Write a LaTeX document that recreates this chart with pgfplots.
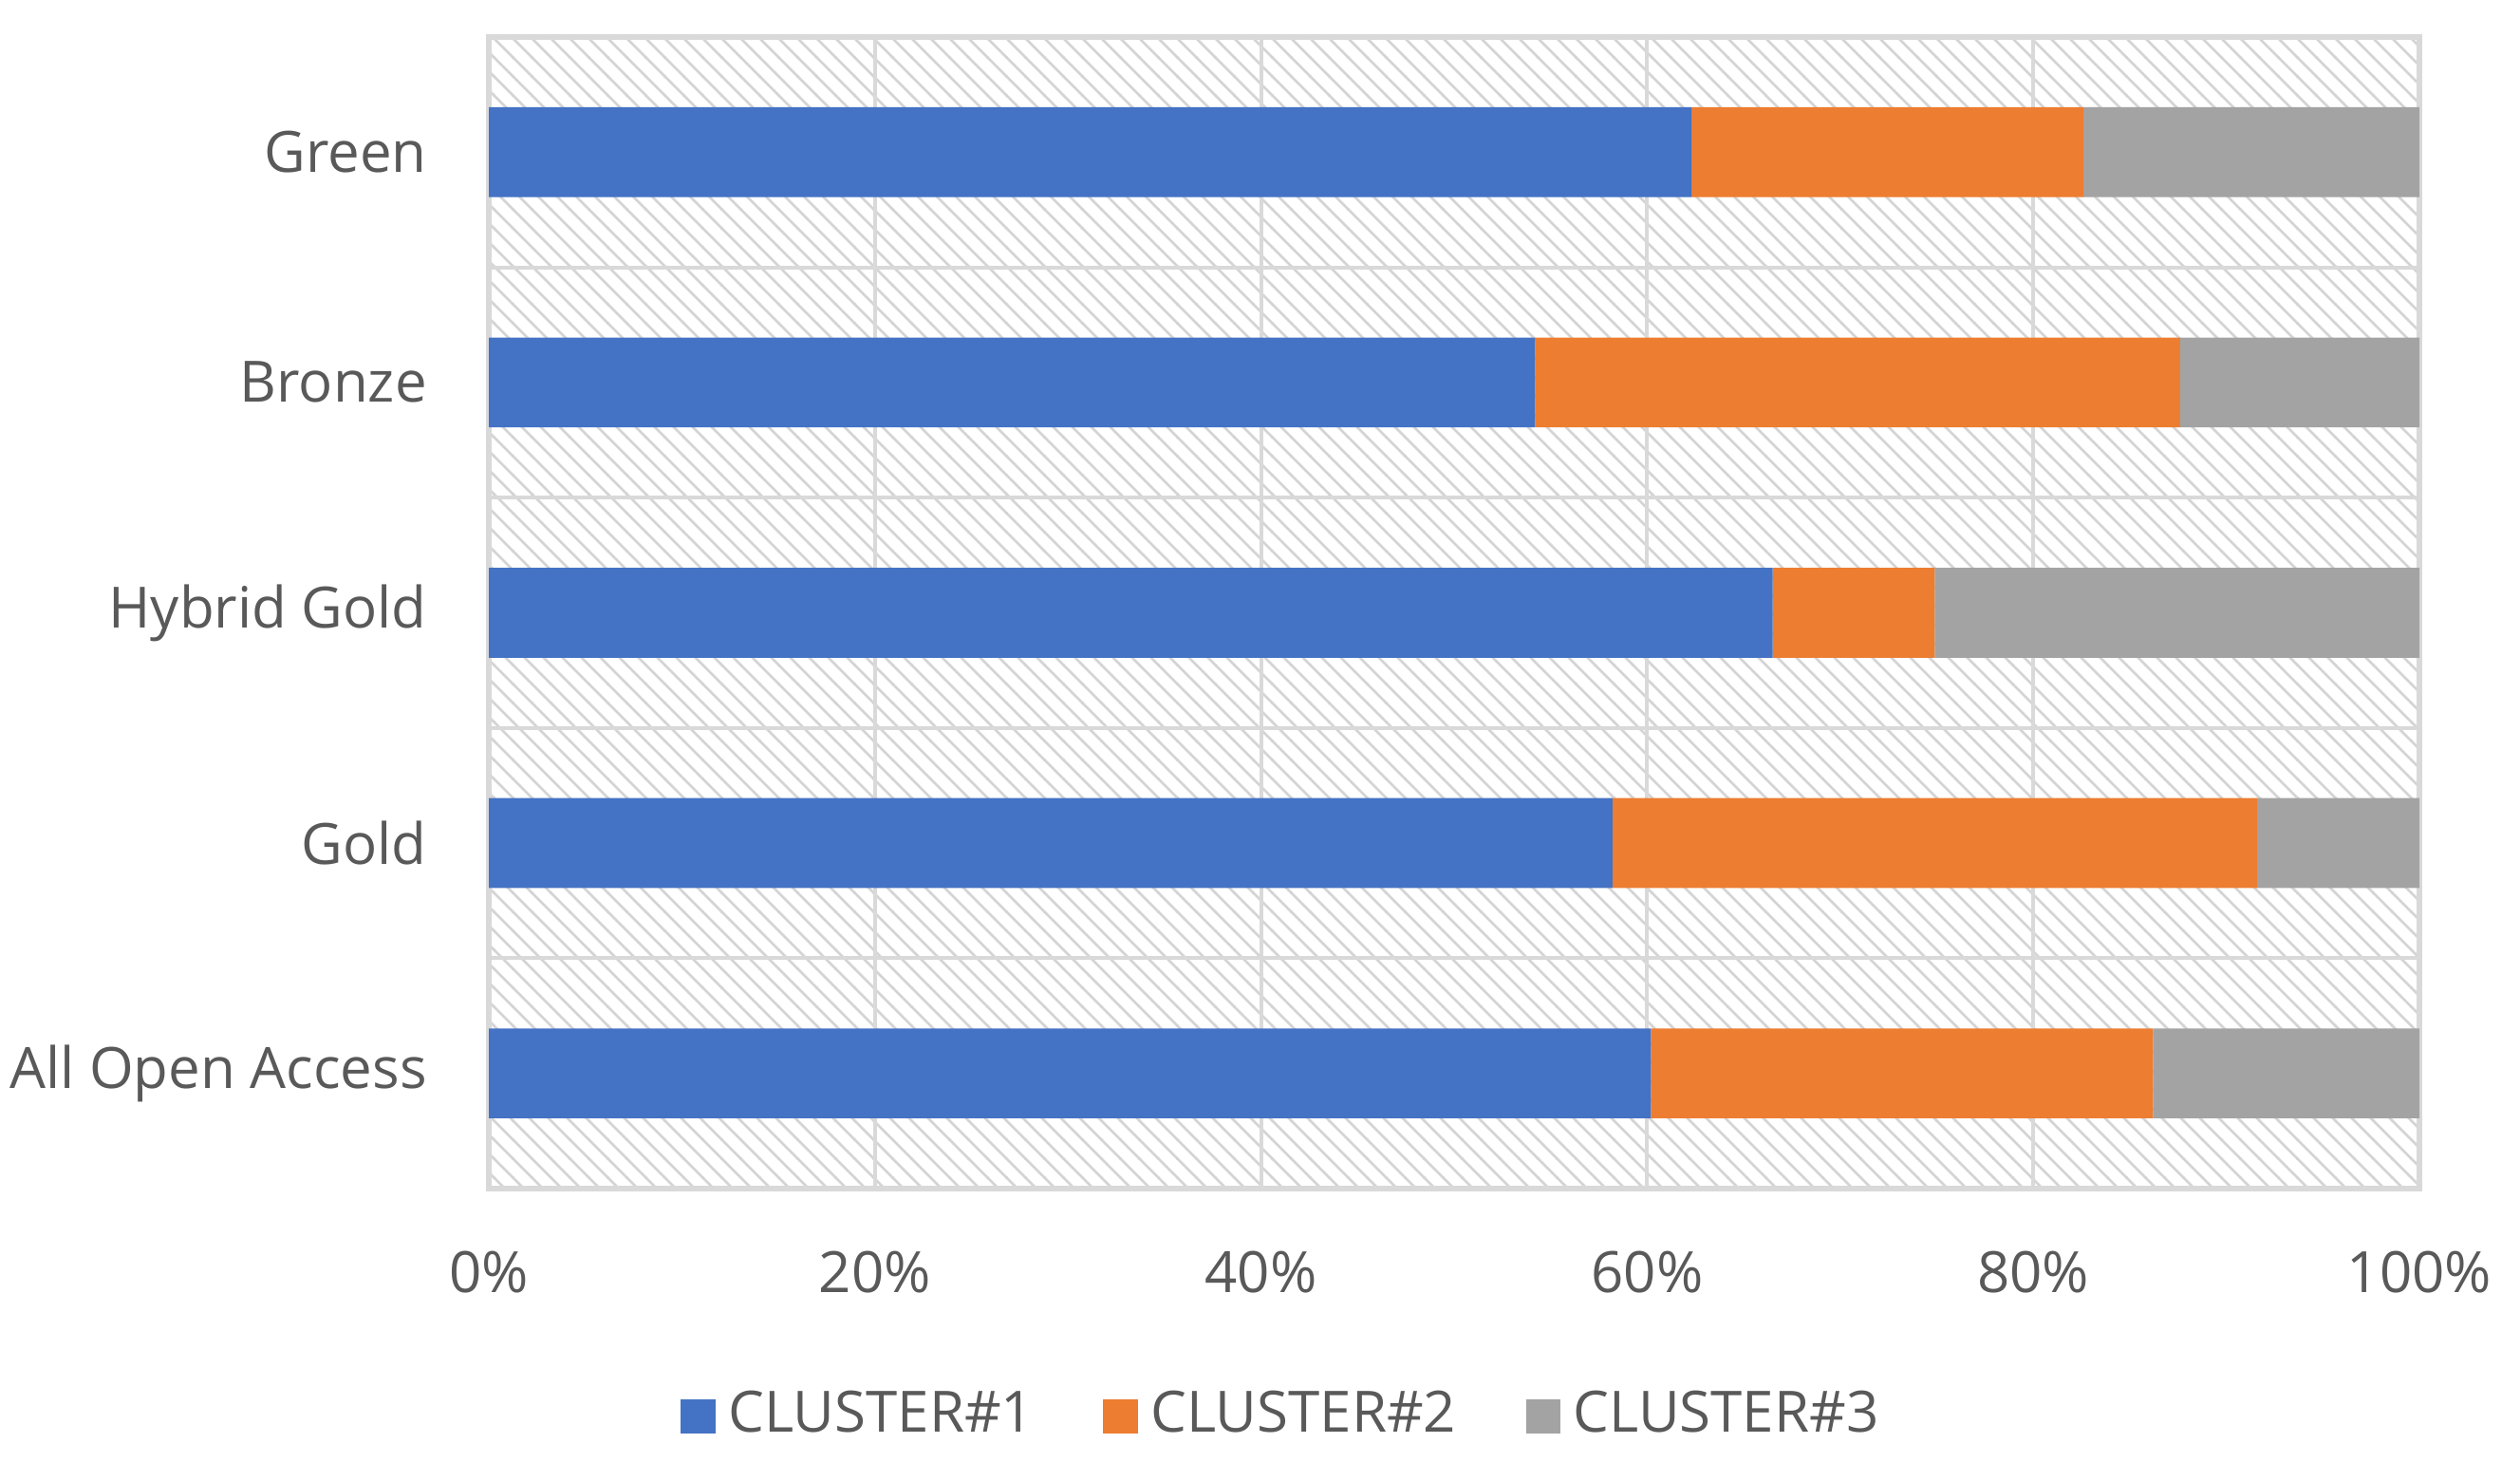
\documentclass[border=0pt]{standalone}
\usepackage{pgfplots}
\pgfplotsset{compat=1.18}
\usepackage{fontspec}
\setmainfont{Open Sans}
\usetikzlibrary{patterns}

\definecolor{cBlue}{HTML}{4472C4}
\definecolor{cOrange}{HTML}{ED7D31}
\definecolor{cGray}{HTML}{A3A3A3}
\definecolor{gridgray}{HTML}{D9D9D9}
\definecolor{txtgray}{HTML}{595959}
\definecolor{hatch}{HTML}{D4D4D4}

\pgfplotsset{
  legsq/.style={legend image code/.code={\fill[##1] (0pt,-2.75pt) rectangle (5.5pt,2.75pt);}},
}

\begin{document}
\begin{tikzpicture}
\begin{axis}[
    scale only axis,
    width=305.1pt, height=181.95pt,
    xbar stacked,
    bar width=14.2pt,
    xmin=0, xmax=100,
    ymin=-0.5, ymax=4.5,
    xtick={0,20,...,100},
    xticklabels={0\%,20\%,40\%,60\%,80\%,100\%},
    ytick={0,1,2,3,4},
    yticklabels={All Open Access,Gold,Hybrid Gold,Bronze,Green},
    minor ytick={0.5,1.5,2.5,3.5},
    xmajorgrids, yminorgrids,
    major tick length=0pt, minor tick length=0pt,
    grid style={draw=gridgray, line width=0.6pt},
    minor grid style={draw=gridgray, line width=0.6pt},
    axis line style={draw=gridgray, line width=0.8pt},
    tick label style={font=\fontsize{9.0}{11}\selectfont, text=txtgray},
    xticklabel style={yshift=-6.3pt, inner xsep=0pt},
    yticklabel style={xshift=-9.6pt, inner xsep=0pt},
    axis background/.style={pattern=north west lines, pattern color=hatch},
    legend style={at={(0.413,-0.198)}, anchor=center, legend columns=-1,
      draw=none, fill=none, font=\fontsize{9.0}{11}\selectfont, text=txtgray,
      /tikz/every even column/.append style={column sep=9pt}},
  ]
\addplot[fill=cBlue, draw=none, legsq] coordinates
  {(60.2,0) (58.2,1) (66.5,2) (54.2,3) (62.3,4)};
\addplot[fill=cOrange, draw=none, legsq] coordinates
  {(26.0,0) (33.4,1) (8.4,2) (33.4,3) (20.3,4)};
\addplot[fill=cGray, draw=none, legsq] coordinates
  {(13.8,0) (8.4,1) (25.1,2) (12.4,3) (17.4,4)};
\legend{CLUSTER\#1,CLUSTER\#2,CLUSTER\#3}
\path (rel axis cs:0,0) ++(-77.25pt,-43.2pt) coordinate (bbsw);
\path (rel axis cs:1,1) ++(15.9pt,5.85pt) coordinate (bbne);
\end{axis}
\pgfresetboundingbox
\path (bbsw) rectangle (bbne);
\end{tikzpicture}
\end{document}
